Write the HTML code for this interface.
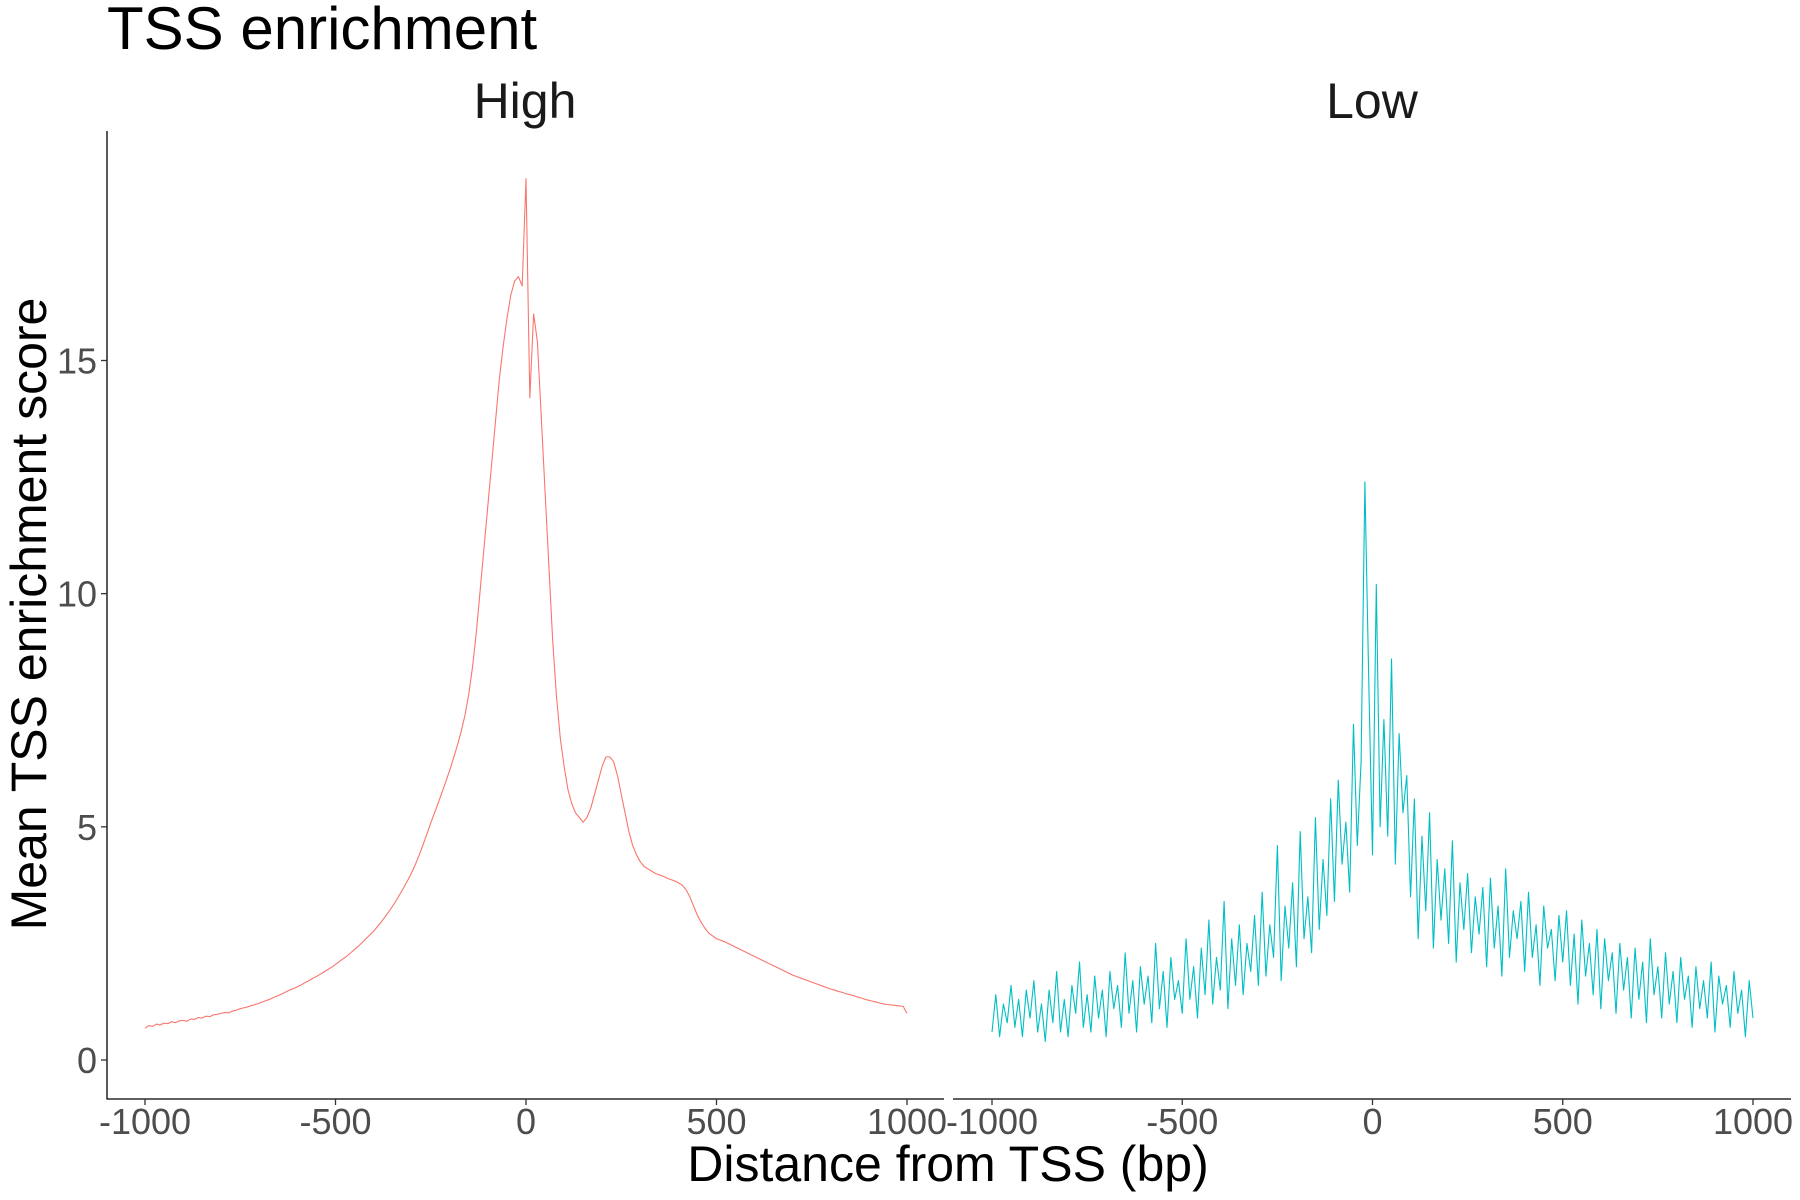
<!DOCTYPE html>
<html><head><meta charset="utf-8"><style>
html,body{margin:0;padding:0;background:#fff;}
svg{display:block;font-family:"Liberation Sans",sans-serif;}
</style></head><body>
<svg id="chart" width="1800" height="1200" viewBox="0 0 1800 1200">
<text x="107" y="49" font-size="60" fill="#000">TSS enrichment</text>
<text x="525" y="118" font-size="50" fill="#1a1a1a" text-anchor="middle">High</text>
<text x="1372" y="118" font-size="50" fill="#1a1a1a" text-anchor="middle">Low</text>
<text x="948" y="1181" font-size="50" fill="#000" text-anchor="middle">Distance from TSS (bp)</text>
<text transform="translate(46,614) rotate(-90)" font-size="50" fill="#000" text-anchor="middle">Mean TSS enrichment score</text>
<g id="axes"></g>
<g id="series"></g>
</svg>
<script>
const xTicks = [-1000, -500, 0, 500, 1000];
const xTickLabels = ["-1000", "-500", "0", "500", "1000"];
const yTicks = [0, 5, 10, 15];
const yTickLabels = ["0", "5", "10", "15"];
const positionsStart = -1000;
const positionStep = 10;
const highValues = [0.68,0.74,0.72,0.77,0.75,0.79,0.78,0.82,0.80,0.84,0.85,0.83,0.88,0.87,0.91,0.90,0.94,0.93,0.97,0.98,1.00,1.02,1.01,1.05,1.07,1.10,1.12,1.14,1.17,1.19,1.22,1.25,1.28,1.31,1.35,1.38,1.42,1.46,1.50,1.53,1.57,1.61,1.66,1.70,1.75,1.79,1.84,1.89,1.94,1.99,
2.05,2.11,2.17,2.23,2.30,2.37,2.44,2.52,2.60,2.68,2.76,2.86,2.96,3.07,3.18,3.30,3.43,3.57,3.71,3.86,4.02,4.20,4.40,4.62,4.85,5.08,5.30,5.52,5.75,5.98,6.22,6.48,6.75,7.05,7.40,7.85,8.45,9.20,10.1,11.0,11.9,12.8,13.7,14.6,15.3,15.9,16.4,16.7,16.8,16.6,
18.9,14.2,16.0,15.4,13.8,12.2,10.6,9.0,7.8,6.9,6.3,5.8,5.5,5.3,5.2,5.1,5.2,5.4,5.7,6.0,6.3,6.5,6.5,6.4,6.1,5.7,5.3,4.9,4.6,4.4,4.25,4.15,4.1,4.05,4.0,3.97,3.94,3.9,3.87,3.84,3.8,3.75,3.65,3.5,3.3,3.1,2.95,2.82,2.72,2.66,
2.6,2.57,2.54,2.5,2.46,2.42,2.38,2.34,2.3,2.26,2.22,2.18,2.14,2.1,2.06,2.02,1.98,1.94,1.9,1.86,1.82,1.79,1.76,1.73,1.70,1.67,1.64,1.61,1.58,1.55,1.52,1.5,1.47,1.45,1.42,1.4,1.38,1.35,1.33,1.3,1.28,1.26,1.24,1.22,1.2,1.19,1.18,1.17,1.16,1.15,1.0];
const lowValues = [0.6,1.4,0.5,1.2,0.8,1.6,0.7,1.3,0.5,1.5,0.9,1.7,0.6,1.2,0.4,1.5,0.8,1.9,0.6,1.3,0.5,1.6,1.0,2.1,0.7,1.4,0.6,1.8,0.9,1.5,0.5,1.9,1.1,1.6,0.7,2.3,1.0,1.7,0.6,2.0,1.2,1.8,0.8,2.5,1.1,1.9,0.7,2.2,1.3,1.7,
1.0,2.6,1.3,2.0,0.9,2.4,1.4,3.0,1.2,2.2,1.5,3.4,1.1,2.6,1.6,2.9,1.4,2.5,1.9,3.1,1.6,3.6,1.8,2.9,2.2,4.6,1.7,3.3,2.4,3.8,2.0,4.9,2.6,3.5,2.3,5.2,2.8,4.3,3.1,5.6,3.4,6.0,4.2,5.1,3.6,7.2,4.6,6.4,12.4,8.2,
4.4,10.2,5.0,7.3,4.8,8.6,4.2,7.0,5.3,6.1,3.5,5.6,2.6,4.8,3.2,5.3,2.4,4.3,3.0,4.1,2.5,4.7,2.1,3.8,2.8,4.0,2.3,3.5,2.7,3.7,2.0,3.9,2.4,3.3,1.8,4.1,2.2,3.2,2.6,3.4,1.9,3.6,2.2,2.9,1.6,3.3,2.4,2.8,1.7,3.1,
2.1,3.2,1.6,2.7,1.2,3.0,1.8,2.5,1.4,2.8,1.1,2.6,1.7,2.3,1.0,2.5,1.5,2.2,0.9,2.4,1.3,2.1,0.8,2.6,1.4,2.0,0.9,2.3,1.2,1.9,0.8,2.2,1.3,1.8,0.7,2.0,1.1,1.7,0.9,2.1,0.6,1.8,1.2,1.6,0.7,1.9,1.0,1.5,0.5,1.7,0.9];

const NS = "http://www.w3.org/2000/svg";
const axes = document.getElementById('axes');
const series = document.getElementById('series');
function yScale(v){ return 1060 - v * (1060 - 360.5) / 15; }
const panels = [
  {name:'high', left:107, right:944, x0:145, x1:907, values:highValues, color:'#F8766D'},
  {name:'low', left:953, right:1791, x0:992, x1:1753, values:lowValues, color:'#00BFC4'}
];
function mk(tag, attrs){ const e=document.createElementNS(NS,tag); for(const k in attrs) e.setAttribute(k,attrs[k]); return e; }

const yLine = mk('line',{x1:107,y1:131,x2:107,y2:1099.5,stroke:'#000','stroke-width':1.3});


axes.appendChild(yLine);
yTicks.forEach((t,i)=>{
  const y=yScale(t);
  const tk=mk('line',{x1:101,y1:y,x2:107,y2:y,stroke:'#333','stroke-width':1.3});
  
  
  axes.appendChild(tk);
  const lb=mk('text',{x:97,y:y+13,'font-size':36,fill:'#4d4d4d','text-anchor':'end'});
  lb.textContent=yTickLabels[i];
  
  
  axes.appendChild(lb);
});

panels.forEach(p=>{
  const xScale = v => p.x0 + (v + 1000) * (p.x1 - p.x0) / 2000;
  const xl=mk('line',{x1:p.left,y1:1099,x2:p.right,y2:1099,stroke:'#000','stroke-width':1.3});
  
  
  axes.appendChild(xl);
  xTicks.forEach((t,i)=>{
    const x=xScale(t);
    const tk=mk('line',{x1:x,y1:1099,x2:x,y2:1105,stroke:'#333','stroke-width':1.3});
    
    
    axes.appendChild(tk);
    const lb=mk('text',{x:x,y:1134,'font-size':36,fill:'#4d4d4d','text-anchor':'middle'});
    lb.textContent=xTickLabels[i];
    
    
    axes.appendChild(lb);
  });
  const pts = p.values.map((v,i)=> xScale(positionsStart + i*positionStep).toFixed(2)+','+yScale(v).toFixed(2)).join(' ');
  const pl=mk('polyline',{points:pts,fill:'none',stroke:p.color,'stroke-width':1.1,'stroke-linejoin':'round'});
  
  
  series.appendChild(pl);
});
</script>
</body></html>
